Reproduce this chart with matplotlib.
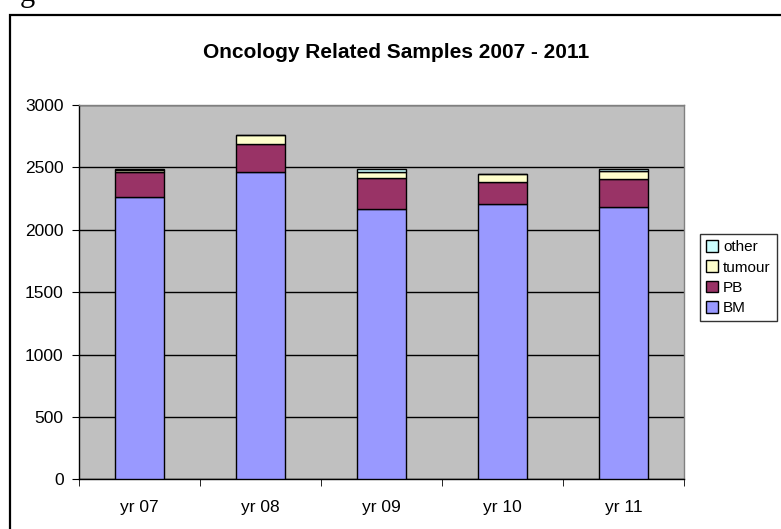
import matplotlib.pyplot as plt
import matplotlib.patches as mpatches
import numpy as np

# data
years = ['yr 07', 'yr 08', 'yr 09', 'yr 10', 'yr 11']
bm = [2260, 2460, 2170, 2205, 2180]
pb = [200, 225, 243, 175, 225]
tumour = [22, 72, 48, 65, 65]
other = [5, 3, 27, 5, 14]

series = [('BM', bm, '#9999FF'), ('PB', pb, '#993366'),
          ('tumour', tumour, '#FFFFCC'), ('other', other, '#CCFFFF')]

plt.rcParams['font.family'] = ['Liberation Sans', 'DejaVu Sans']

fig = plt.figure(figsize=(7.81, 5.29), dpi=100)
ax = fig.add_axes([79 / 781, 1 - 479.3 / 529, 605 / 781, (479.3 - 105) / 529])

# chart area border (runs off the right and bottom edge)
fig.patches.append(mpatches.Rectangle((10 / 781, -0.05), 1.0, 1 - 15 / 529 + 0.05,
                                      transform=fig.transFigure, fill=False,
                                      edgecolor='black', lw=1.6, clip_on=False))
# descender of a word from the surrounding document
fig.text(20 / 781, 1 - 1 / 529, 'g', family='Liberation Serif', fontsize=22,
         va='baseline', ha='left')

x = np.arange(len(years))
bottom = np.zeros(len(years))
handles = []
for name, vals, color in series:
    b = ax.bar(x, vals, width=0.4, bottom=bottom, color=color,
               edgecolor='black', linewidth=1, label=name, zorder=3)
    bottom += np.array(vals)
    handles.append(b)

ax.set_facecolor('#C0C0C0')
ax.set_ylim(0, 3000)
ax.set_xlim(-0.5, len(years) - 0.5)
ax.set_yticks(np.arange(0, 3001, 500))
ax.yaxis.grid(True, color='black', lw=1, zorder=1)
ax.set_axisbelow(True)

ax.set_xticks(x)
ax.set_xticklabels(years, fontsize=12.5)
ax.set_xticks(np.arange(-0.5, len(years)), minor=True)
ax.tick_params(axis='x', which='major', length=0, pad=15)
ax.tick_params(axis='x', which='minor', length=5, direction='out', color='black')
ax.tick_params(axis='y', length=5, direction='out', labelsize=12.5, pad=6)

for side in ['top', 'right']:
    ax.spines[side].set_color('#808080')
    ax.spines[side].set_linewidth(1)
for side in ['left', 'bottom']:
    ax.spines[side].set_color('black')
    ax.spines[side].set_linewidth(1)

fig.text(396 / 781, 1 - 52 / 529, 'Oncology Related Samples 2007 - 2011',
         ha='center', va='center', fontsize=15, fontweight='bold')

leg = fig.legend(handles[::-1], [s[0] for s in series][::-1],
                 loc='upper left', bbox_to_anchor=(700 / 781, 1 - 234 / 529),
                 fontsize=11, frameon=True, fancybox=False, edgecolor='black',
                 handlelength=0.8, handleheight=0.8, handletextpad=0.3,
                 labelspacing=0.4, borderpad=0.4, borderaxespad=0)
leg.get_frame().set_linewidth(1)

fig.savefig('out.png', dpi=100)
